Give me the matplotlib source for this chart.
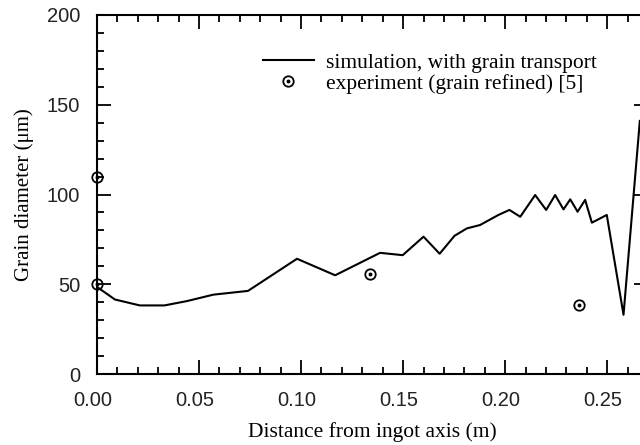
import numpy as np
import matplotlib
matplotlib.use("Agg")
import matplotlib.pyplot as plt
from matplotlib.ticker import MultipleLocator
from matplotlib.transforms import ScaledTranslation

# simulation, with grain transport
sim_x = [0.0, 0.0088, 0.021, 0.033, 0.044, 0.057, 0.074, 0.098, 0.1167,
         0.1387, 0.1498, 0.160, 0.1679, 0.1752, 0.1812, 0.1877, 0.1967,
         0.2021, 0.2074, 0.2147, 0.2201, 0.2245, 0.2286, 0.2319, 0.2355,
         0.2392, 0.2425, 0.2498, 0.258, 0.266]
sim_y = [48.5, 41.5, 38.2, 38.2, 40.6, 44.2, 46.3, 64.2, 55.0,
         67.5, 66.2, 76.5, 67.0, 77.0, 81.1, 83.0, 88.6,
         91.4, 87.6, 99.7, 91.4, 99.7, 91.7, 97.3, 90.4,
         97.0, 84.3, 88.6, 33.0, 141.0]

# experiment (grain refined) [5]
exp_x = [0.0, 0.0, 0.1338, 0.2364]
exp_y = [109.5, 50.0, 55.5, 38.5]

serif = "Liberation Serif"
sans = "Liberation Sans"

fig = plt.figure(figsize=(6.4, 4.45), dpi=100)
W, H = 640.0, 445.0
ax = fig.add_axes([97 / W, 1 - 374 / H, (648 - 97) / W, (374 - 15) / H])

line, = ax.plot(sim_x, sim_y, color="black", lw=1.5)
circ, = ax.plot(exp_x, exp_y, linestyle="none", marker="o", markersize=7.5,
                markerfacecolor="none", markeredgecolor="black",
                markeredgewidth=1.3, clip_on=False)
dot, = ax.plot(exp_x, exp_y, linestyle="none", marker="o", markersize=1.8,
               color="black", clip_on=False)

ax.set_xlim(0, 0.27)
ax.set_ylim(0, 200)
ax.xaxis.set_major_locator(MultipleLocator(0.05))
ax.xaxis.set_minor_locator(MultipleLocator(0.01))
ax.yaxis.set_major_locator(MultipleLocator(50))
ax.yaxis.set_minor_locator(MultipleLocator(10))
ax.xaxis.set_major_formatter(matplotlib.ticker.FormatStrFormatter("%.2f"))

ax.tick_params(which="both", direction="in", top=True, right=True, width=1.3)
ax.tick_params(which="major", length=10)
ax.tick_params(which="minor", length=5)
ax.tick_params(axis="x", pad=12)
ax.tick_params(axis="y", pad=12)
for lab in ax.get_xticklabels() + ax.get_yticklabels():
    lab.set_fontfamily(sans)
    lab.set_fontsize(14.5)
    lab.set_color("#222222")
# x tick labels sit a little left of their ticks in the original
shift = ScaledTranslation(-0.045, 0, fig.dpi_scale_trans)
for lab in ax.get_xticklabels():
    lab.set_transform(lab.get_transform() + shift)
for s in ax.spines.values():
    s.set_linewidth(1.5)

ax.set_xlabel("Distance from ingot axis (m)", fontfamily=serif, fontsize=15.5,
              labelpad=9)
ax.set_ylabel("Grain diameter (\u03bcm)", fontfamily=serif, fontsize=15,
              labelpad=9)

ax.legend([line, (circ, dot)],
          ["simulation, with grain transport", "experiment (grain refined) [5]"],
          loc="upper left", bbox_to_anchor=(252 / W, 1 - 42 / H),
          bbox_transform=fig.transFigure, frameon=False, borderpad=0,
          prop={"family": serif, "size": 15.5}, handlelength=2.37,
          labelspacing=0.05, handletextpad=0.56)

fig.savefig("out.png", dpi=100)
